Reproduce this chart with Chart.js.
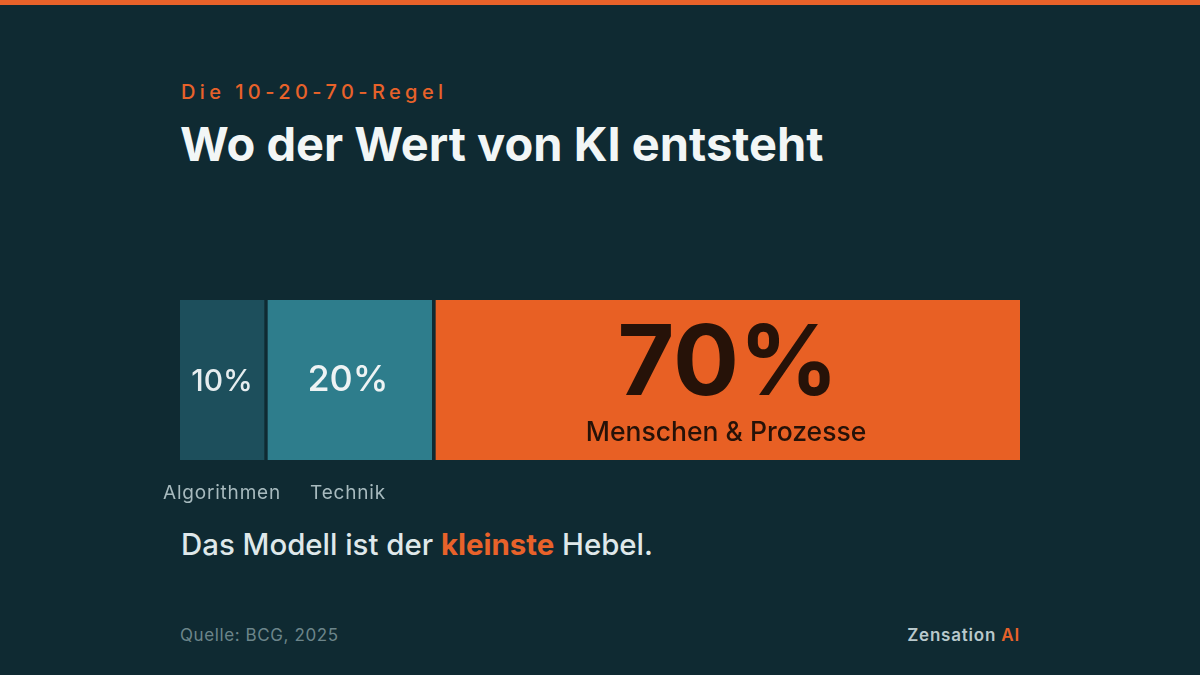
<!DOCTYPE html>
<html lang="de">
<head>
<meta charset="utf-8">
<script src="https://cdn.jsdelivr.net/npm/chart.js@4/dist/chart.umd.min.js"></script>
<style>
	html, body { margin: 0; padding: 0; }
	body {
		width: 1200px; height: 675px; overflow: hidden; position: relative;
		background: #0f2a32; font-family: Inter, "Noto Sans", sans-serif;
		border-top: 5px solid #e8622a; box-sizing: border-box;
	}
	.kicker { position: absolute; left: 181px; top: 75px; font-size: 20px; letter-spacing: 4.4px; color: #e8622a; font-weight: 500; }
	.title { position: absolute; left: 180px; top: 110px; font-size: 47px; font-weight: 700; color: #f2f6f6; letter-spacing: 0; }
	.chartBox { position: absolute; left: 0; top: 265px; width: 1200px; height: 240px; }
	.tagline { position: absolute; left: 181px; top: 522px; font-size: 29.4px; color: #dfe8ea; font-weight: 500; }
	.tagline b { color: #e8622a; font-weight: 700; }
	.source { position: absolute; left: 180px; top: 620px; font-size: 17px; color: #6c858a; letter-spacing: 0.6px; }
	.brand { position: absolute; right: 180px; top: 620px; font-size: 17px; color: #b9c9cc; font-weight: 600; letter-spacing: 0.8px; }
	.brand span { color: #e8622a; }
</style>
</head>
<body>
<div class="kicker">Die 10-20-70-Regel</div>
<div class="title">Wo der Wert von KI entsteht</div>
<div class="chartBox"><canvas id="ruleChart" width="1200" height="240"></canvas></div>
<div class="tagline">Das Modell ist der <b>kleinste</b> Hebel.</div>
<div class="source">Quelle: BCG, 2025</div>
<div class="brand">Zensation <span>AI</span></div>

<script>
const categories = ['Algorithmen', 'Technik', 'Menschen & Prozesse'];
const shares = [10, 20, 70];
const colors = ['#1d4f5c', '#2e7d8c', '#e86024'];

function addRuleChart() {

	let segmentLabels = {
		id: 'segmentLabels',
		afterDatasetsDraw(chart) {
			let ctx = chart.ctx;
			ctx.save();
			ctx.textAlign = 'center';
			chart.data.datasets.forEach((ds, i) => {
				let bar = chart.getDatasetMeta(i).data[0];
				let cx = (bar.x + bar.base) / 2;
				let cy = bar.y;
				let value = ds.data[0] + '%';
				if (i === 0) {
					ctx.fillStyle = '#e6edef';
					ctx.font = '500 30px Inter';
					ctx.textBaseline = 'middle';
					ctx.fillText(value, cx, cy + 2);
				} else if (i === 1) {
					ctx.fillStyle = '#eef3f4';
					ctx.font = '500 36px Inter';
					ctx.textBaseline = 'middle';
					ctx.fillText(value, cx, cy);
				} else {
					ctx.fillStyle = '#261208';
					ctx.font = '700 98px Inter';
					ctx.textBaseline = 'alphabetic';
					ctx.fillText(value, cx + 2, cy + 15);
					ctx.font = '500 26.5px Inter';
					ctx.fillText(ds.label, cx, cy + 61);
				}
				if (i < 2) {
					ctx.fillStyle = '#a7babe';
					ctx.font = '400 19px Inter';
					ctx.letterSpacing = '0.8px';
					ctx.textBaseline = 'alphabetic';
					ctx.fillText(ds.label, cx, chart.chartArea.bottom + 39);
					ctx.letterSpacing = '0px';
				}
			});
			ctx.restore();
		}
	};

	let ctx = document.getElementById('ruleChart').getContext('2d');
	let myBarChart = new Chart(ctx, {
		type: 'bar',
		data: {
			labels: [''],
			datasets: categories.map((c, i) => ({
				label: c,
				data: [shares[i]],
				backgroundColor: colors[i],
				borderColor: '#0f2a32',
				borderWidth: { left: i > 0 ? 4 : 0, right: 0, top: 0, bottom: 0 },
				borderSkipped: false,
				barPercentage: 1,
				categoryPercentage: 1,
			})),
		},
		plugins: [segmentLabels],
		options: {
			indexAxis: 'y',
			responsive: false,
			animation: false,
			layout: { padding: { left: 180, right: 180, top: 30, bottom: 50 } },
			scales: {
				x: { stacked: true, min: 0, max: 100, display: false },
				y: { stacked: true, display: false },
			},
			plugins: {
				legend: { display: false },
				tooltip: { enabled: false },
			},
		},
	});

}

addRuleChart();
</script>
</body>
</html>
